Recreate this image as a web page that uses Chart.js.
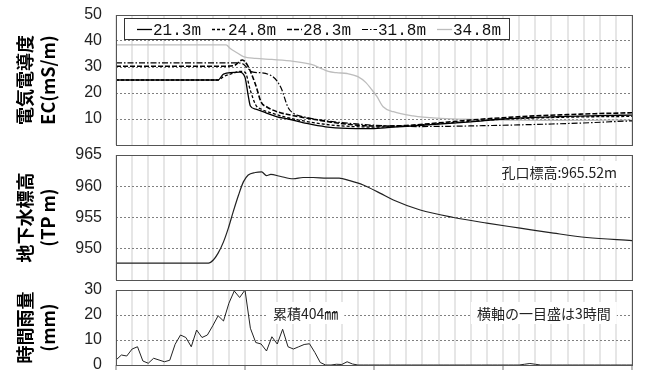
<!DOCTYPE html>
<html lang="ja">
<head>
<meta charset="utf-8">
<script src="https://cdn.jsdelivr.net/npm/chart.js@4.4.1/dist/chart.umd.min.js"></script>
<style>
  body { margin: 0; background: #fff; }
  #wrap { position: relative; width: 665px; height: 376px; }
  .panel { position: absolute; left: 0; width: 665px; }
  #ecBox { top: 0; height: 155px; }
  #gwBox { top: 145px; height: 145px; }
  #rainBox { top: 280px; height: 96px; }
</style>
</head>
<body>
<div id="wrap">
  <div class="panel" id="ecBox"><canvas id="ecCanvas"></canvas></div>
  <div class="panel" id="gwBox"><canvas id="gwCanvas"></canvas></div>
  <div class="panel" id="rainBox"><canvas id="rainCanvas"></canvas></div>
</div>
<script>
// x = hours from the start of the record (one grid step = 3 h, 4 days shown)
const ecLabels = ['21.3m', '24.8m', '28.3m', '31.8m', '34.8m'];

const ec213Hours = [0, 19, 20, 23, 24, 24.6, 25, 26, 28, 30, 32, 35.5, 39, 43, 47, 50, 54, 60, 66, 72, 78, 84, 90, 96];
const ec213 = [25, 25, 27.3, 28, 26, 19, 15, 13.8, 12.3, 10.8, 10, 8.3, 7, 6.4, 6.3, 6.6, 7.2, 8, 8.9, 10, 10.6, 11, 11.3, 11.5];

const ec248Hours = [0, 19, 20, 21.8, 23, 24, 25, 26, 27, 29, 31, 34, 37, 40, 44, 48, 54, 60, 66, 72, 78, 84, 90, 96];
const ec248 = [25, 25, 26.3, 27.6, 28.3, 28, 21, 15.4, 13.8, 12.3, 11, 9.6, 8.5, 7.7, 7.1, 6.9, 7.3, 8.2, 9.1, 9.9, 10.4, 10.7, 10.9, 11];

const ec283Hours = [0, 20, 22, 23.5, 24.5, 26, 27, 28, 30, 34, 37, 40, 44, 48, 54, 60, 66, 72, 78, 84, 90, 96];
const ec283 = [30.3, 30.3, 30.6, 32.7, 30.5, 23, 16.5, 14.7, 12.8, 10.9, 9.8, 8.8, 7.8, 7.3, 7.5, 8.5, 9.6, 10.5, 11.2, 11.7, 12.1, 12.4];

const ec318Hours = [0, 22, 23.5, 24.5, 25.5, 27, 29, 30, 30.8, 32, 33, 35, 38, 42, 46, 50, 56, 62, 70, 78, 86, 96];
const ec318 = [31.6, 31.6, 31.3, 29.5, 28, 27.8, 26.5, 24.5, 21.5, 14.5, 12.2, 10.8, 9.6, 8.6, 7.9, 7.4, 7.1, 7.2, 7.5, 7.9, 8.4, 9.3];

const ec348Hours = [0, 20.5, 21.2, 22.5, 23.7, 26, 29, 33, 36.5, 38, 39.5, 41, 43, 45, 46.5, 47.5, 48.5, 49.7, 51.6, 55.3, 59.7, 65, 72, 80, 88, 96];
const ec348 = [38.5, 38.5, 37.2, 35.5, 34, 33.3, 32.9, 32.2, 30.9, 29.6, 28.3, 27.8, 27.5, 26.3, 24, 21.5, 18.8, 14.7, 12.8, 11.2, 10.3, 9.9, 9.6, 9.5, 9.5, 9.6];

// groundwater level (TP m)
const gwHours = [0, 17.2, 18.1, 19, 20, 20.9, 21.8, 22.8, 23.7, 24.6, 25.9, 27.1, 28, 28.8, 30.5, 33, 34.8, 36.7, 39.2, 41.5, 43.5, 46, 49.1, 51.6, 56.6, 62.8, 69, 75.2, 81.4, 87.6, 96];
const gwLevel = [947.7, 947.7, 948.2, 949.3, 951.1, 953.3, 955.9, 958.6, 960.7, 961.8, 962.2, 962.3, 961.7, 961.9, 961.6, 961.2, 961.4, 961.4, 961.3, 961.3, 960.9, 960.2, 958.9, 957.8, 956.2, 955, 954.1, 953.3, 952.5, 951.8, 951.3];

// hourly rainfall (mm), hour 0..96
const rainHours = Array.from({ length: 97 }, (_, h) => h);
const rain = [
  2, 4, 3.6, 6.4, 7.3, 1.6, 0.7, 2.7, 2, 1.3,
  1.9, 8.3, 12, 11, 7.3, 14, 11, 12, 15.7, 19.7,
  17.6, 24.7, 29.6, 27, 30, 14.7, 9, 8.4, 5.6, 11.3,
  8.4, 14.3, 7.3, 6.4, 7.3, 8.2, 8.5, 5, 1, 0,
  0, 0.3, 0.2, 1.3, 0.4, 0, 0, 0, 0, 0,
  0, 0, 0, 0, 0, 0, 0, 0, 0, 0,
  0, 0, 0, 0, 0, 0, 0, 0, 0, 0,
  0, 0, 0, 0, 0, 0, 0.3, 0.6, 0.3, 0,
  0, 0, 0, 0, 0, 0, 0, 0, 0, 0,
  0, 0, 0, 0, 0, 0, 0
];

const gwNote = '孔口標高:965.52m';
const rainTotalNote = '累積404㎜';
const axisNote = '横軸の一目盛は3時間';

const pts = (xs, ys) => xs.map((x, i) => ({ x: x, y: ys[i] }));

// frame round the plot area
const frame = {
  id: 'frame',
  afterDatasetsDraw(chart) {
    const { ctx, chartArea: a } = chart;
    ctx.save();
    ctx.strokeStyle = '#555';
    ctx.lineWidth = 1;
    ctx.strokeRect(Math.round(a.left) + 0.5, Math.round(a.top) + 0.5, Math.round(a.width), Math.round(a.height));
    ctx.restore();
  }
};

// text notes with a white patch behind
const notes = {
  id: 'notes',
  beforeDatasetsDraw(chart, args, opts) {
    const { ctx, chartArea: a } = chart;
    (opts.items || []).forEach(n => {
      ctx.save();
      ctx.font = '14px "Noto Sans CJK JP"';
      ctx.textBaseline = 'middle';
      const w = ctx.measureText(n.text).width;
      const x = n.right != null ? a.right - n.right - w : a.left + n.left;
      const y = a.top + n.top;
      ctx.fillStyle = '#fff';
      ctx.fillRect(x - 6, y - 11, w + 12, 22);
      ctx.fillStyle = '#222';
      ctx.fillText(n.text, x, y + 1);
      ctx.restore();
    });
  }
};

// boxed legend inside the EC plot
const ecLegend = {
  id: 'ecLegend',
  afterDatasetsDraw(chart) {
    const { ctx, chartArea: a } = chart;
    const left = a.left + 8, top = a.top + 3;
    ctx.save();
    ctx.fillStyle = '#fff';
    ctx.fillRect(left, top, 385, 21);
    ctx.strokeStyle = '#333';
    ctx.lineWidth = 1;
    ctx.strokeRect(left + 0.5, top + 0.5, 385, 21);
    ctx.font = '16px "Liberation Mono"';
    ctx.textBaseline = 'middle';
    chart.data.datasets.forEach((ds, i) => {
      const x = a.left + 21 + i * 75, y = top + 11.5;
      ctx.strokeStyle = ds.borderColor;
      ctx.lineWidth = ds.borderWidth;
      ctx.setLineDash(ds.borderDash || []);
      ctx.beginPath();
      ctx.moveTo(x, y);
      ctx.lineTo(x + 15, y);
      ctx.stroke();
      ctx.setLineDash([]);
      ctx.fillStyle = '#111';
      ctx.fillText(ds.label, x + 16, y + 1);
    });
    ctx.restore();
  }
};

function xAxis(dayMarks) {
  return {
    type: 'linear', min: 0, max: 96,
    ticks: { stepSize: 3, display: false },
    grid: {
      color: '#e6e6e6', lineWidth: 2,
      drawTicks: dayMarks, tickLength: 5, tickWidth: 1,
      tickColor: c => (c.tick && c.tick.value % 24 === 0) ? '#777' : 'rgba(0,0,0,0)'
    },
    border: { display: false }
  };
}

function yAxis(min, max, step, title, hideMin) {
  return {
    min: min, max: max,
    ticks: {
      stepSize: step, padding: 0, color: '#222',
      font: { family: 'Liberation Sans', size: 16 },
      callback: v => (hideMin && v === min) ? '' : v
    },
    grid: { color: '#808080', lineWidth: 1, drawTicks: true, tickLength: 14, tickColor: 'rgba(0,0,0,0)' },
    border: { display: false, dash: [2, 2] },
    title: {
      display: true, text: title, color: '#000',
      font: { family: 'Noto Sans CJK JP', size: 18, weight: 'bold', lineHeight: 1.3 },
      padding: { top: 13, bottom: 0 }
    },
    afterFit: s => { s.width = 116; }
  };
}

const lineBase = { pointRadius: 0, fill: false, cubicInterpolationMode: 'monotone' };

new Chart(document.getElementById('ecCanvas'), {
  type: 'line',
  data: {
    datasets: [
      { ...lineBase, label: ecLabels[0], data: pts(ec213Hours, ec213), borderColor: '#000', borderWidth: 1.3, borderDash: [] },
      { ...lineBase, label: ecLabels[1], data: pts(ec248Hours, ec248), borderColor: '#000', borderWidth: 1.3, borderDash: [3, 2] },
      { ...lineBase, label: ecLabels[2], data: pts(ec283Hours, ec283), borderColor: '#000', borderWidth: 1.6, borderDash: [5, 2] },
      { ...lineBase, label: ecLabels[3], data: pts(ec318Hours, ec318), borderColor: '#000', borderWidth: 1.2, borderDash: [6, 2, 1.5, 2] },
      { ...lineBase, label: ecLabels[4], data: pts(ec348Hours, ec348), borderColor: '#bdbdbd', borderWidth: 1.3, borderDash: [] }
    ]
  },
  options: {
    responsive: true, maintainAspectRatio: false, animation: false,
    layout: { padding: { top: 15, bottom: 10, left: 0, right: 33 } },
    scales: { x: xAxis(false), y: yAxis(0, 50, 10, ['電気電導度', 'EC(mS/m)'], true) },
    plugins: { legend: { display: false }, tooltip: { enabled: false } }
  },
  plugins: [frame, ecLegend]
});

new Chart(document.getElementById('gwCanvas'), {
  type: 'line',
  data: {
    datasets: [
      { ...lineBase, label: 'gw', data: pts(gwHours, gwLevel), borderColor: '#222', borderWidth: 1.2 }
    ]
  },
  options: {
    responsive: true, maintainAspectRatio: false, animation: false,
    layout: { padding: { top: 10, bottom: 10, left: 0, right: 33 } },
    scales: { x: xAxis(false), y: yAxis(945, 965, 5, ['地下水標高', '(TP m)'], true) },
    plugins: {
      legend: { display: false }, tooltip: { enabled: false },
      notes: { items: [{ text: gwNote, right: 15, top: 17 }] }
    }
  },
  plugins: [notes, frame]
});

new Chart(document.getElementById('rainCanvas'), {
  type: 'line',
  data: {
    labels: rainHours,
    datasets: [
      { label: 'rain', data: rain, borderColor: '#222', borderWidth: 1, pointRadius: 0, fill: false, tension: 0 }
    ]
  },
  options: {
    responsive: true, maintainAspectRatio: false, animation: false,
    layout: { padding: { top: 10, bottom: 6, left: 0, right: 33 } },
    scales: { x: xAxis(true), y: yAxis(0, 30, 10, ['時間雨量', '(mm)'], false) },
    plugins: {
      legend: { display: false }, tooltip: { enabled: false },
      notes: { items: [{ text: rainTotalNote, left: 157, top: 23 }, { text: axisNote, left: 361, top: 23 }] }
    }
  },
  plugins: [notes, frame]
});
</script>
</body>
</html>
